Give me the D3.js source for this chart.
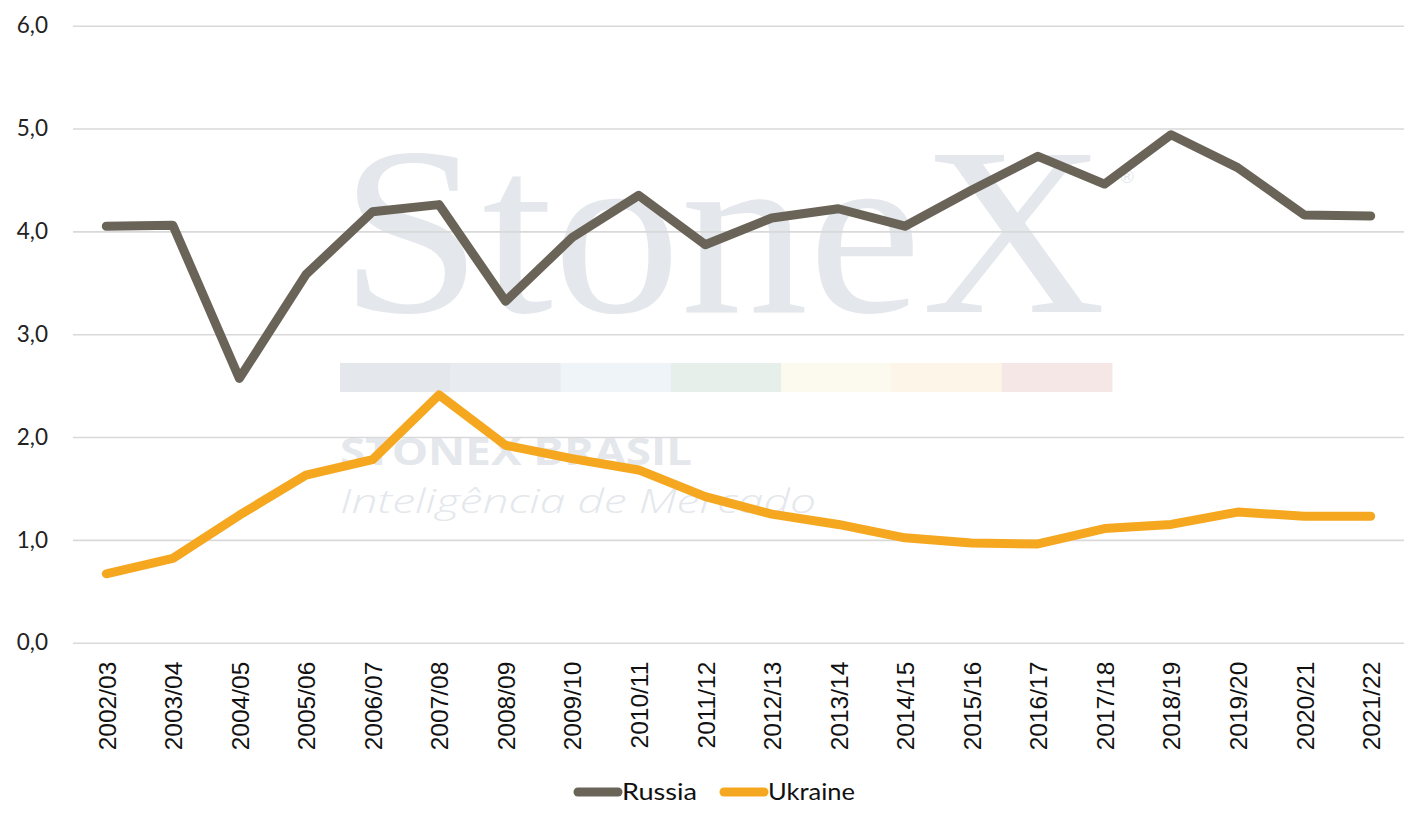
<!DOCTYPE html>
<html><head><meta charset="utf-8">
<script src="https://cdn.jsdelivr.net/npm/d3@7"></script>
<style>html,body{margin:0;padding:0;background:#fff;}svg{display:block;}</style>
</head><body>
<svg id="chart" width="1427" height="827"></svg>
<script>
const categories = ["2002/03","2003/04","2004/05","2005/06","2006/07","2007/08","2008/09","2009/10","2010/11","2011/12","2012/13","2013/14","2014/15","2015/16","2016/17","2017/18","2018/19","2019/20","2020/21","2021/22"];
const russia = [4.05,4.06,2.57,3.58,4.19,4.26,3.32,3.94,4.35,3.87,4.13,4.22,4.05,4.40,4.73,4.46,4.94,4.62,4.16,4.15];
const ukraine = [0.67,0.82,1.24,1.63,1.78,2.41,1.92,1.79,1.68,1.42,1.25,1.15,1.02,0.97,0.96,1.11,1.15,1.27,1.23,1.23];
const yTicks = [0,1,2,3,4,5,6];
const seriesNames = ["Russia","Ukraine"];
const seriesColors = ["#6a6358","#f5a81f"];
const stripColors = ["#e4e7ec","#e8ecf1","#eff4f9","#e7efea","#fcf9ef","#fdf5e7","#f6e7e7"];

const svg = d3.select("#chart");
const mLeft = 73, mRight = 1404, mTop = 25.7, mBottom = 642.7;

const x = d3.scalePoint().domain(categories).range([mLeft, mRight]).padding(0.5);
const y = d3.scaleLinear().domain([0,6]).range([mBottom, mTop]);

// watermark
const wm = svg.append("g");
wm.append("text").attr("x",340).attr("y",312).attr("font-family","'Liberation Serif','Times New Roman',serif")
  .attr("font-size",240).attr("fill","#e4e7ec").attr("textLength",766).attr("lengthAdjust","spacingAndGlyphs").text("StoneX");
wm.append("text").attr("x",1118).attr("y",183).attr("font-family","'DejaVu Sans',sans-serif")
  .attr("font-size",18).attr("fill","#e4e7ec").text("®");
const stripX = d3.scaleBand().domain(d3.range(stripColors.length)).range([340,1112]);
wm.selectAll("rect.strip").data(stripColors).join("rect").attr("class","strip")
  .attr("x",(d,i)=>stripX(i)).attr("y",363).attr("width",stripX.bandwidth()+0.5).attr("height",29).attr("fill",d=>d);
wm.append("text").attr("x",340).attr("y",465).attr("font-family","'Open Sans','DejaVu Sans',sans-serif").attr("font-weight",700)
  .attr("font-size",37).attr("fill","#e4e7ec").attr("textLength",352).attr("lengthAdjust","spacingAndGlyphs").text("STONEX BRASIL");
wm.append("text").attr("x",340).attr("y",513).attr("font-family","'Open Sans','DejaVu Sans',sans-serif").attr("font-style","italic").attr("font-weight",300)
  .attr("font-size",33).attr("fill","#e4e7ec").attr("textLength",476).attr("lengthAdjust","spacingAndGlyphs").text("Inteligência de Mercado");

// gridlines + y labels
const yAxis = d3.axisLeft(y).tickValues(yTicks).tickSize(-(mRight-mLeft)).tickFormat(d=>d3.format(".1f")(d).replace(".",","));
const gy = svg.append("g").attr("transform",`translate(${mLeft},0)`).call(yAxis);
gy.select(".domain").remove();
gy.selectAll(".tick line").attr("stroke","#d9d9d9").attr("stroke-width",1.6);
gy.selectAll(".tick text").attr("x",-25).attr("font-family","Lato, 'Noto Sans', sans-serif").attr("font-size",22.5).attr("fill","#222");

// x labels
const xAxis = d3.axisBottom(x).tickSize(0);
const gx = svg.append("g").attr("transform",`translate(0,${mBottom})`).call(xAxis);
gx.select(".domain").remove();
gx.selectAll(".tick text").attr("transform","rotate(-90)").attr("text-anchor","end")
  .attr("x",-19).attr("y",0).attr("dy","0.36em")
  .attr("font-family","'Liberation Sans', Arial, sans-serif").attr("font-size",24.5).attr("fill","#111");

// lines
const line = d3.line().x((d,i)=>x(categories[i])).y(d=>y(d));
[russia, ukraine].forEach((vals, k) => {
  svg.append("path").datum(vals).attr("d",line).attr("fill","none")
    .attr("stroke",seriesColors[k]).attr("stroke-width",9).attr("stroke-linejoin","round").attr("stroke-linecap","round");
});

// legend
const legendItems = [{x0:578,x1:618,tx:622,len:75},{x0:724,x1:764,tx:768,len:87}];
const lg = svg.append("g");
seriesNames.forEach((name,k)=>{
  const it = legendItems[k];
  lg.append("line").attr("x1",it.x0).attr("x2",it.x1).attr("y1",792).attr("y2",792)
    .attr("stroke",seriesColors[k]).attr("stroke-width",9).attr("stroke-linecap","round");
  lg.append("text").attr("x",it.tx).attr("y",792).attr("dy","0.35em")
    .attr("font-family","Lato, 'Noto Sans', sans-serif").attr("font-size",24).attr("fill","#111")
    .attr("textLength",it.len).attr("lengthAdjust","spacingAndGlyphs").text(name);
});
</script>
</body></html>
